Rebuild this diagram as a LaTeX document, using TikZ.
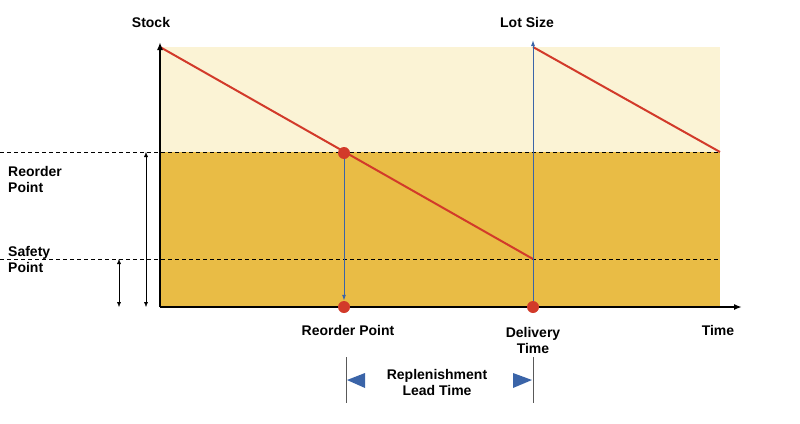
\documentclass[tikz,border=0pt]{standalone}
\usepackage{fontspec}
\setmainfont{Liberation Sans}
\usetikzlibrary{arrows.meta}
\definecolor{lightY}{HTML}{FBF3D5}
\definecolor{darkY}{HTML}{E9BC45}
\definecolor{redL}{HTML}{D23A2A}
\definecolor{blueL}{HTML}{3A64A8}
\tikzset{lbl/.style={font=\fontsize{14}{16}\selectfont\bfseries, align=center, inner sep=0pt},
 dot/.style={circle, fill=redL, minimum size=12pt, inner sep=0pt},
 dashline/.style={line width=1pt, dash pattern=on 4pt off 3pt},
 tri/.style={fill=blueL}}
\begin{document}
\begin{tikzpicture}[x=1pt,y=-1pt]
\useasboundingbox (0,0) rectangle (800,423);
\fill[lightY] (160,47) rectangle (720,152);
\fill[darkY] (160,152) rectangle (720,307);
\draw[dashline] (0,152) -- (720,152);
\draw[dashline] (0,259) -- (720,259);
\draw[redL, line width=2pt] (160,47) -- (533,259);
\draw[redL, line width=2pt] (533,47) -- (720,152);
\coordinate (o) at (160,307);
\coordinate (ytop) at (160,42);
\coordinate (xend) at (742,307);
\draw[line width=2pt, -{Latex[length=8pt,width=6pt]}] (o) -- (ytop);
\draw[line width=2pt, -{Latex[length=8pt,width=6pt]}] (o) -- (xend);
\node[dot] (r1) at (344,153) {};
\node[dot] (r2) at (344,307) {};
\node[dot] (d1) at (533,307) {};
\coordinate (lt) at (533,40);
\draw[blueL, line width=1pt, -{Latex[length=6pt,width=4pt]}] (r1) -- (r2);
\draw[blueL, line width=1pt, -{Latex[length=6pt,width=4pt]}] (d1) -- (lt);
\coordinate (a1) at (146,152); \coordinate (a2) at (146,307);
\coordinate (b1) at (119,259); \coordinate (b2) at (119,307);
\draw[{Latex[length=5pt,width=4pt]}-{Latex[length=5pt,width=4pt]}] (a1) -- (a2);
\draw[{Latex[length=5pt,width=4pt]}-{Latex[length=5pt,width=4pt]}] (b1) -- (b2);
\node[lbl] (stock) at (151,22) {Stock};
\node[lbl] (lot) at (527,22) {Lot Size};
\node[lbl, align=left, anchor=west] (rp) at (8,179) {Reorder\\Point};
\node[lbl, align=left, anchor=west] (sp) at (8,259) {Safety\\Point};
\node[lbl] (rpx) at (348,330) {Reorder Point};
\node[lbl] (dt) at (533,340) {Delivery\\Time};
\node[lbl] (tm) at (718,330) {Time};
\node[lbl] (rlt) at (437,382) {Replenishment\\Lead Time};
\coordinate (v1t) at (346,357); \coordinate (v1b) at (346,403);
\coordinate (v2t) at (533,357); \coordinate (v2b) at (533,403);
\draw[gray!70!black, line width=0.8pt] (v1t) -- (v1b);
\draw[gray!70!black, line width=0.8pt] (v2t) -- (v2b);
\fill[tri] (347,380) -- (365,373) -- (365,388) -- cycle;
\fill[tri] (532,380) -- (513,373) -- (513,388) -- cycle;
\end{tikzpicture}
\end{document}
